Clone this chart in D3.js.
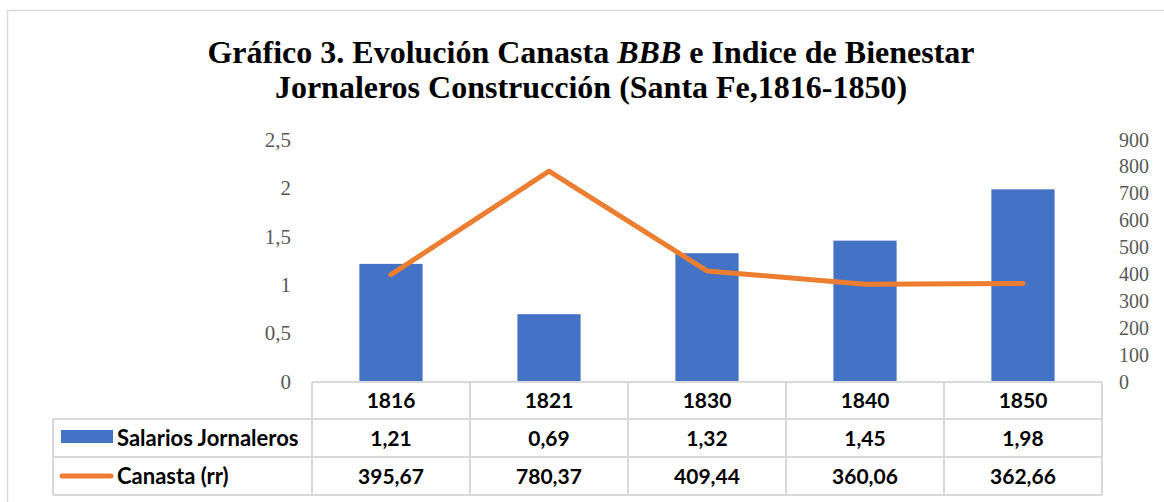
<!DOCTYPE html>
<html>
<head>
<meta charset="utf-8">
<script src="https://cdn.jsdelivr.net/npm/d3@7"></script>
<style>
  body { margin: 0; background: #fff; }
  svg { display: block; }
</style>
</head>
<body>
<div class="chart"></div>
<script>
// data
const years = ['1816', '1821', '1830', '1840', '1850'];
const salarios = [1.21, 0.69, 1.32, 1.45, 1.98];
const canasta = [395.67, 780.37, 409.44, 360.06, 362.66];
const salariosLabels = ['1,21', '0,69', '1,32', '1,45', '1,98'];
const canastaLabels = ['395,67', '780,37', '409,44', '360,06', '362,66'];
const leftTicks = [0, 0.5, 1, 1.5, 2, 2.5];
const rightTicks = [0, 100, 200, 300, 400, 500, 600, 700, 800, 900];
const seriesNames = ['Salarios Jornaleros', 'Canasta (rr)'];

const width = 1164, height = 502;
const blue = '#4472C4', orange = '#ED7D31', grid = '#D9D9D9', axisGrey = '#595959';

const svg = d3.select('.chart')
              .append('svg')
              .attr('width', width)
              .attr('height', height);

// outer chart border
svg.append('rect')
   .attr('x', 7.5).attr('y', 10.5)
   .attr('width', 1180).attr('height', 520)
   .attr('fill', 'none')
   .attr('stroke', grid)
   .attr('stroke-width', 1.5);

// title
const title = svg.append('text')
                 .attr('text-anchor', 'middle')
                 .style('font-family', '"Liberation Serif", "Times New Roman", serif')
                 .style('font-weight', 'bold')
                 .style('font-size', '32px')
                 .attr('fill', '#000');
const t1 = title.append('tspan').attr('x', 591).attr('y', 63);
t1.append('tspan').text('Gráfico 3. Evolución Canasta ');
t1.append('tspan').style('font-style', 'italic').text('BBB');
t1.append('tspan').text(' e Indice de Bienestar');
title.append('tspan').attr('x', 591).attr('y', 98)
     .text('Jornaleros Construcción (Santa Fe,1816-1850)');

// scales
const x = d3.scaleBand()
            .domain(years)
            .range([312, 1102])
            .paddingInner(0.6)
            .paddingOuter(0.3);
const xCol = d3.scaleBand().domain(years).range([312, 1102]);

const yLeft = d3.scaleLinear().domain([0, 2.5]).range([381, 139]);
const yRight = d3.scaleLinear().domain([0, 900]).range([381, 139]);

const fmt = d3.format(',.1~f');
const comma = v => fmt(v).replace('.', ',');

// left axis
const leftAxis = svg.append('g')
    .attr('transform', 'translate(291,0)')
    .call(d3.axisLeft(yLeft).tickValues(leftTicks).tickFormat(comma).tickSize(0).tickPadding(0));
leftAxis.select('.domain').remove();
leftAxis.selectAll('text')
    .attr('dy', '0.35em')
    .style('font-family', '"Liberation Serif", "Times New Roman", serif')
    .style('font-size', '21px')
    .attr('fill', axisGrey);

// right axis
const rightAxis = svg.append('g')
    .attr('transform', 'translate(1119,0)')
    .call(d3.axisRight(yRight).tickValues(rightTicks).tickSize(0).tickPadding(0));
rightAxis.select('.domain').remove();
rightAxis.selectAll('text')
    .attr('dy', '0.35em')
    .style('font-family', '"Liberation Serif", "Times New Roman", serif')
    .style('font-size', '20px')
    .attr('fill', axisGrey);

// bars
svg.selectAll('.bar')
   .data(salarios)
   .enter()
   .append('rect')
   .attr('class', 'bar')
   .attr('x', (d, i) => x(years[i]))
   .attr('y', d => yLeft(d))
   .attr('width', x.bandwidth())
   .attr('height', d => yLeft(0) - yLeft(d))
   .attr('fill', blue);

// line
const line = d3.line()
               .x((d, i) => x(years[i]) + x.bandwidth() / 2)
               .y(d => yRight(d));
svg.append('path')
   .datum(canasta)
   .attr('d', line)
   .attr('fill', 'none')
   .attr('stroke', orange)
   .attr('stroke-width', 5)
   .attr('stroke-linecap', 'round')
   .attr('stroke-linejoin', 'round');

// data table
const rowY = [382, 419, 457, 495];
const legendLeft = 53;
const tbl = svg.append('g').attr('class', 'table')
               .attr('stroke', grid).attr('stroke-width', 2);
// horizontal lines
tbl.append('line').attr('x1', 312).attr('x2', 1102).attr('y1', rowY[0]).attr('y2', rowY[0]);
rowY.slice(1).forEach(y => {
    tbl.append('line').attr('x1', legendLeft).attr('x2', 1102).attr('y1', y).attr('y2', y);
});
// vertical lines
xCol.domain().forEach(d => {
    tbl.append('line').attr('x1', xCol(d)).attr('x2', xCol(d)).attr('y1', rowY[0]).attr('y2', rowY[3]);
});
tbl.append('line').attr('x1', 1102).attr('x2', 1102).attr('y1', rowY[0]).attr('y2', rowY[3]);
tbl.append('line').attr('x1', legendLeft).attr('x2', legendLeft).attr('y1', rowY[1]).attr('y2', rowY[3]);

const rows = [years, salariosLabels, canastaLabels];
const baseY = [408, 446, 484];
rows.forEach((r, ri) => {
    svg.selectAll('.cell' + ri)
       .data(r)
       .enter()
       .append('text')
       .attr('class', 'cell' + ri)
       .attr('x', (d, i) => xCol(years[i]) + xCol.bandwidth() / 2)
       .attr('y', baseY[ri])
       .attr('text-anchor', 'middle')
       .style('font-family', 'Lato, "Open Sans", sans-serif')
       .style('font-weight', 'bold')
       .style('font-size', '21px')
       .attr('fill', '#000')
       .text(d => d);
});

// legend keys
svg.append('rect')
   .attr('x', 61).attr('y', 430)
   .attr('width', 52).attr('height', 13)
   .attr('fill', blue);
svg.append('line')
   .attr('x1', 62).attr('x2', 111)
   .attr('y1', 476).attr('y2', 476)
   .attr('stroke', orange).attr('stroke-width', 5)
   .attr('stroke-linecap', 'round');

svg.selectAll('.legendText')
   .data(seriesNames)
   .enter()
   .append('text')
   .attr('class', 'legendText')
   .attr('x', 117)
   .attr('y', (d, i) => baseY[i + 1])
   .style('font-family', 'Lato, "Open Sans", sans-serif')
   .style('font-weight', 'bold')
   .style('font-size', '22px')
   .attr('fill', '#000')
   .text(d => d);
</script>
</body>
</html>
